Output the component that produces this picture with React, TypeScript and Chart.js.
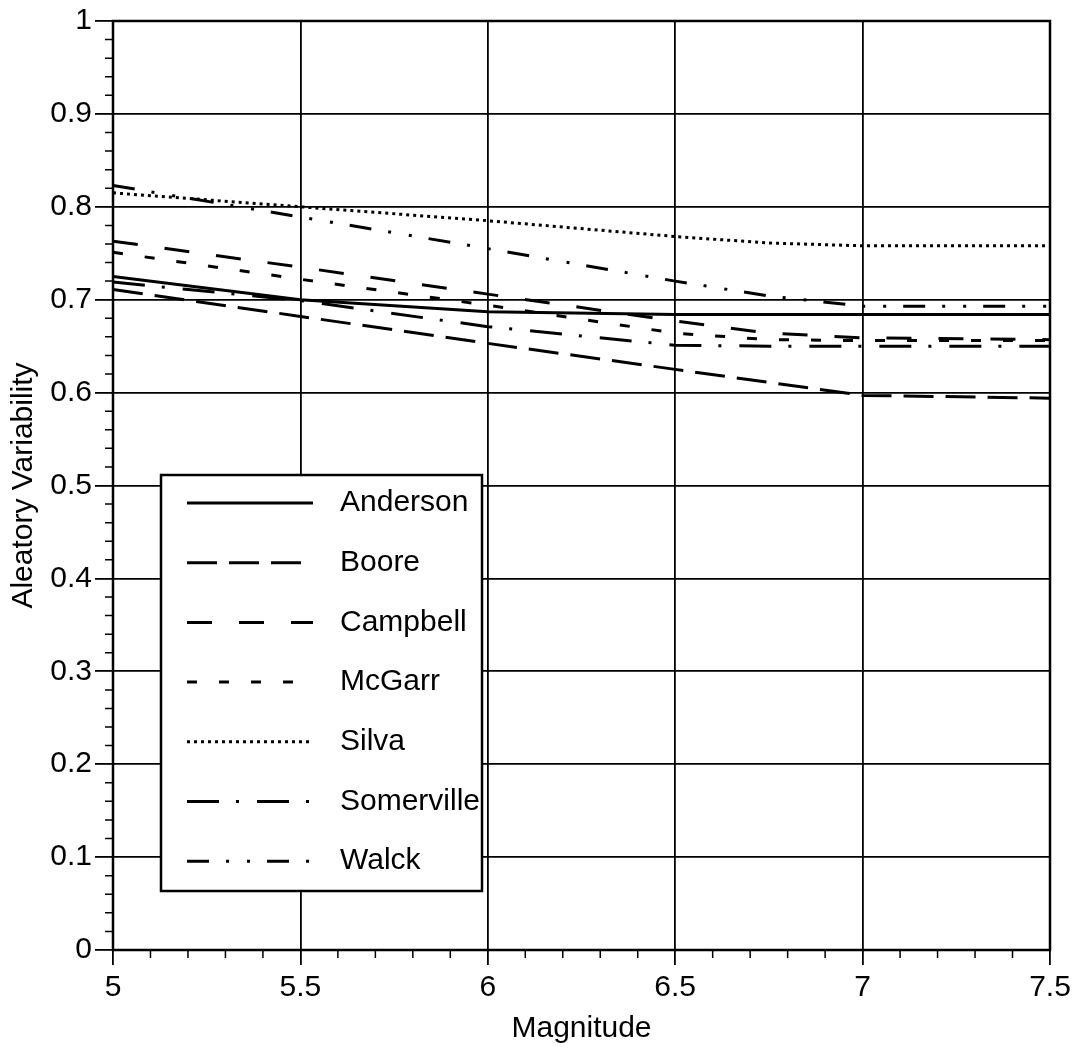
import React, { useEffect, useRef } from "react";
import { Chart, registerables } from "chart.js";

Chart.register(...registerables);

const magnitudes = [5, 5.5, 6, 6.5, 6.75, 7, 7.5];
const seriesNames = ["Anderson", "Boore", "Campbell", "McGarr", "Silva", "Somerville", "Walck"];
const anderson = [0.725, 0.700, 0.687, 0.684, 0.684, 0.684, 0.684];
const boore = [0.711, 0.682, 0.653, 0.625, 0.611, 0.597, 0.594];
const campbell = [0.763, 0.735, 0.706, 0.677, 0.664, 0.659, 0.657];
const mcgarr = [0.751, 0.722, 0.694, 0.664, 0.657, 0.656, 0.656];
const silva = [0.815, 0.800, 0.785, 0.768, 0.761, 0.758, 0.758];
const somerville = [0.719, 0.699, 0.671, 0.651, 0.650, 0.650, 0.650];
const walck = [0.823, 0.789, 0.755, 0.720, 0.704, 0.693, 0.693];
const seriesValues = [anderson, boore, campbell, mcgarr, silva, somerville, walck];
const dashPatterns: number[][] = [
  [],
  [30, 12],
  [25, 27],
  [10, 22],
  [3, 4],
  [32, 17, 3, 18],
  [22, 17, 3, 18, 3, 17],
];
const xTickLabels = ["5", "5.5", "6", "6.5", "7", "7.5"];
const yTickLabels = ["0", "0.1", "0.2", "0.3", "0.4", "0.5", "0.6", "0.7", "0.8", "0.9", "1"];
const xTitle = "Magnitude";
const yTitle = "Aleatory Variability";

const FONT = "'Liberation Sans', Arial, Helvetica, sans-serif";
const FS = 30;

const framePlugin = {
  id: "frameAndMinor",
  beforeDraw(chart: any) {
    const ctx = chart.ctx;
    ctx.save();
    ctx.fillStyle = "#ffffff";
    ctx.fillRect(0, 0, chart.width, chart.height);
    ctx.restore();
  },
  afterDraw(chart: any) {
    const ctx = chart.ctx;
    const { left, right, top, bottom } = chart.chartArea;
    const xs = chart.scales.x;
    const ys = chart.scales.y;
    ctx.save();
    ctx.strokeStyle = "#000";
    ctx.lineWidth = 1.5;
    ctx.beginPath();
    for (let i = 0; i <= 50; i++) {
      if (i % 5 === 0) continue;
      const py = ys.getPixelForValue(i * 0.02);
      ctx.moveTo(left - 8, py);
      ctx.lineTo(left, py);
    }
    for (let i = 0; i <= 25; i++) {
      if (i % 5 === 0) continue;
      const px = xs.getPixelForValue(5 + i * 0.1);
      ctx.moveTo(px, bottom);
      ctx.lineTo(px, bottom + 8);
    }
    ctx.stroke();
    ctx.lineWidth = 2.5;
    ctx.strokeRect(left, top, right - left, bottom - top);

    // legend
    const lx = left + 48;
    const ly = top + 454;
    const lw = 321;
    const lh = 416;
    ctx.fillStyle = "#fff";
    ctx.fillRect(lx, ly, lw, lh);
    ctx.lineWidth = 2.5;
    ctx.setLineDash([]);
    ctx.strokeRect(lx, ly, lw, lh);
    ctx.font = `${FS}px ${FONT}`;
    ctx.textBaseline = "middle";
    ctx.textAlign = "left";
    ctx.fillStyle = "#000";
    seriesNames.forEach((name, i) => {
      const cy = ly + 28 + i * 59.7;
      ctx.beginPath();
      ctx.setLineDash(dashPatterns[i]);
      ctx.lineWidth = 3;
      ctx.moveTo(lx + 26, cy);
      ctx.lineTo(lx + 152, cy);
      ctx.stroke();
      ctx.setLineDash([]);
      ctx.fillText(name, lx + 179, cy);
    });
    ctx.restore();
  },
};

export default function App() {
  const ref = useRef<HTMLCanvasElement>(null);
  useEffect(() => {
    const canvas = ref.current;
    if (!canvas) return;
    const datasets = seriesNames.map((name, i) => ({
      label: name,
      data: magnitudes.map((m, j) => ({ x: m, y: seriesValues[i][j] })),
      borderColor: "#000",
      backgroundColor: "#000",
      borderWidth: 3,
      borderDash: dashPatterns[i],
      pointRadius: 0,
      tension: 0,
      fill: false,
    }));
    const chart = new Chart(canvas, {
      type: "line",
      data: { datasets },
      options: {
        animation: false,
        responsive: false,
        maintainAspectRatio: false,
        layout: { padding: { top: 20, right: 29, left: 0, bottom: 0 } },
        plugins: { legend: { display: false }, tooltip: { enabled: false } },
        scales: {
          x: {
            type: "linear",
            min: 5,
            max: 7.5,
            afterFit: (s: any) => { s.height = 100; },
            afterBuildTicks: (s: any) => {
              s.ticks = xTickLabels.map((t) => ({ value: parseFloat(t) }));
            },
            ticks: {
              color: "#000",
              font: { family: FONT, size: FS },
              padding: 5,
              maxRotation: 0,
              callback: (_v: any, idx: number) => xTickLabels[idx],
            },
            grid: { color: "#000", lineWidth: 1.8, tickLength: 15, tickColor: "#000" },
            border: { color: "#000", width: 2 },
            title: {
              display: true,
              text: xTitle,
              color: "#000",
              font: { family: FONT, size: FS },
              padding: { top: 0, bottom: 3 },
            },
          },
          y: {
            type: "linear",
            min: 0,
            max: 1,
            afterFit: (s: any) => { s.width = 113; },
            afterBuildTicks: (s: any) => {
              s.ticks = yTickLabels.map((t) => ({ value: parseFloat(t) }));
            },
            ticks: {
              color: "#000",
              font: { family: FONT, size: FS },
              padding: 3,
              callback: (_v: any, idx: number) => yTickLabels[idx],
            },
            grid: { color: "#000", lineWidth: 1.8, tickLength: 18, tickColor: "#000" },
            border: { color: "#000", width: 2 },
            title: {
              display: true,
              text: yTitle,
              color: "#000",
              font: { family: FONT, size: FS },
              padding: { top: 6, bottom: 0 },
            },
          },
        },
      },
      plugins: [framePlugin],
    } as any);
    return () => chart.destroy();
  }, []);
  return (
    <div style={{ position: "absolute", left: 0, top: 0, width: 1079, height: 1050, background: "#fff" }}>
      <canvas ref={ref} width={1079} height={1050} style={{ display: "block" }} />
    </div>
  );
}
